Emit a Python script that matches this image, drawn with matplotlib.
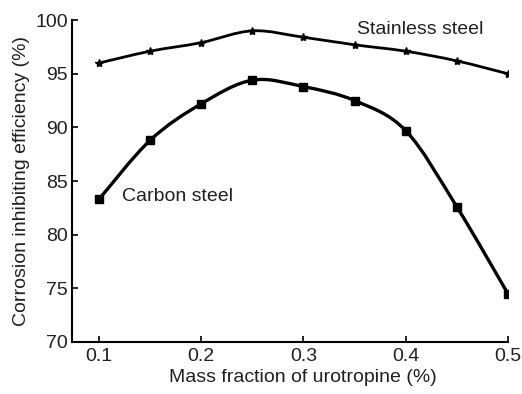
import matplotlib
matplotlib.use("Agg")
import matplotlib.pyplot as plt
from matplotlib.path import Path
from matplotlib.patches import PathPatch
import numpy as np

plt.rcParams['font.family'] = ['Liberation Sans', 'DejaVu Sans']
TXT = '#231f20'

mass_fraction = [0.10, 0.15, 0.20, 0.25, 0.30, 0.35, 0.40, 0.45, 0.50]
stainless = [96.0, 97.1, 97.9, 99.0, 98.4, 97.7, 97.1, 96.2, 95.0]
carbon = [83.3, 88.8, 92.2, 94.4, 93.8, 92.5, 89.7, 82.6, 74.5]
x_ticks = [0.1, 0.2, 0.3, 0.4, 0.5]
y_ticks = [70, 75, 80, 85, 90, 95, 100]


def smooth_path(xs, ys):
    P = np.column_stack([xs, ys]).astype(float)
    n = len(P)
    verts = [P[0]]
    codes = [Path.MOVETO]
    for i in range(n - 1):
        p0 = P[i - 1] if i > 0 else P[i]
        p1 = P[i]
        p2 = P[i + 1]
        p3 = P[i + 2] if i + 2 < n else P[i + 1]
        c1 = p1 + (p2 - p0) / 6.0
        c2 = p2 - (p3 - p1) / 6.0
        verts += [c1, c2, p2]
        codes += [Path.CURVE4] * 3
    return Path(verts, codes)


fig = plt.figure(figsize=(5.22, 3.94), dpi=100)
ax = fig.add_axes([0.138, 0.132, 0.835, 0.817])

ax.add_patch(PathPatch(smooth_path(mass_fraction, stainless), fill=False,
                       edgecolor='black', lw=2.0, transform=ax.transData))
ax.add_patch(PathPatch(smooth_path(mass_fraction, carbon), fill=False,
                       edgecolor='black', lw=2.4, transform=ax.transData))
ax.plot(mass_fraction, stainless, ls='none', marker='*', ms=6, color='black')
ax.plot(mass_fraction, carbon, ls='none', marker='s', ms=6, color='black')

ax.set_xlim(0.0736, 0.5)
ax.set_ylim(70, 100)
ax.set_xticks(x_ticks)
ax.set_xticklabels([f"{v:.1f}" for v in x_ticks])
ax.set_yticks(y_ticks)
ax.tick_params(direction='in', length=4, width=1.2, labelsize=14, pad=4,
               labelcolor=TXT)
ax.tick_params(axis='y', pad=3)
for s in ['top', 'right']:
    ax.spines[s].set_visible(False)
for s in ['left', 'bottom']:
    ax.spines[s].set_linewidth(1.5)

ax.set_xlabel("Mass fraction of urotropine (%)", fontsize=14, labelpad=6,
              color=TXT)
ax.xaxis.set_label_coords(0.53, -0.085)
ax.set_ylabel("Corrosion inhibiting efficiency (%)", fontsize=14, labelpad=4,
              color=TXT)

ax.text(0.414, 99.1, "Stainless steel", fontsize=14, ha='center', va='center',
        color=TXT)
ax.text(0.1764, 83.6, "Carbon steel", fontsize=14, ha='center', va='center',
        color=TXT)

fig.savefig("out.png", dpi=100)
